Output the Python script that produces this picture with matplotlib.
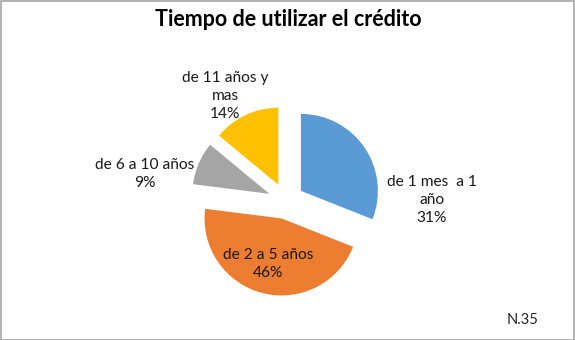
import matplotlib
matplotlib.use("Agg")
import matplotlib.pyplot as plt
from matplotlib.patches import Rectangle

title = "Tiempo de utilizar el crédito"
categories = ["de 1 mes  a 1\naño", "de 2 a 5 años", "de 6 a 10 años", "de 11 años y\nmas"]
values = [31, 46, 9, 14]
colors = ["#5B9BD5", "#ED7D31", "#A5A5A5", "#FFC000"]
note = "N.35"

W, H = 575, 340
fig = plt.figure(figsize=(W / 100, H / 100), dpi=100)
ax = fig.add_axes([0, 0, 1, 1])

font = ["Lato", "DejaVu Sans"]

cx, cy, r = 286, H - 201, 77
ax.pie(values, colors=colors, startangle=90, counterclock=False,
       explode=[18] * len(values), center=(cx, cy), radius=r,
       wedgeprops=dict(linewidth=0), frame=True)
ax.set_xlim(0, W)
ax.set_ylim(0, H)
ax.set_aspect("equal")
ax.axis("off")

# label positions (pixels, top-left origin)
label_pos = [(432, 200), (268, 264), (145, 174), (225, 96)]
for lab, val, (lx, ly) in zip(categories, values, label_pos):
    ax.text(lx, H - ly, f"{lab}\n{val}%", ha="center", va="center",
            fontsize=11.2, family=font, color="#1a1a1a", linespacing=1.35)

ax.text(288, H - 20, title, ha="center", va="center", fontsize=15.5,
        fontweight="bold", family=font, color="black")
ax.text(538, H - 320, note, ha="right", va="center", fontsize=10.5,
        family=font, color="#262626")

fig.patches.append(Rectangle((0.5 / W, 0.5 / H), 1 - 1.5 / W, 1 - 1.5 / H,
                             transform=fig.transFigure, fill=False,
                             edgecolor="#a6a6a6", linewidth=1.2))

fig.savefig("out.png", dpi=100)
